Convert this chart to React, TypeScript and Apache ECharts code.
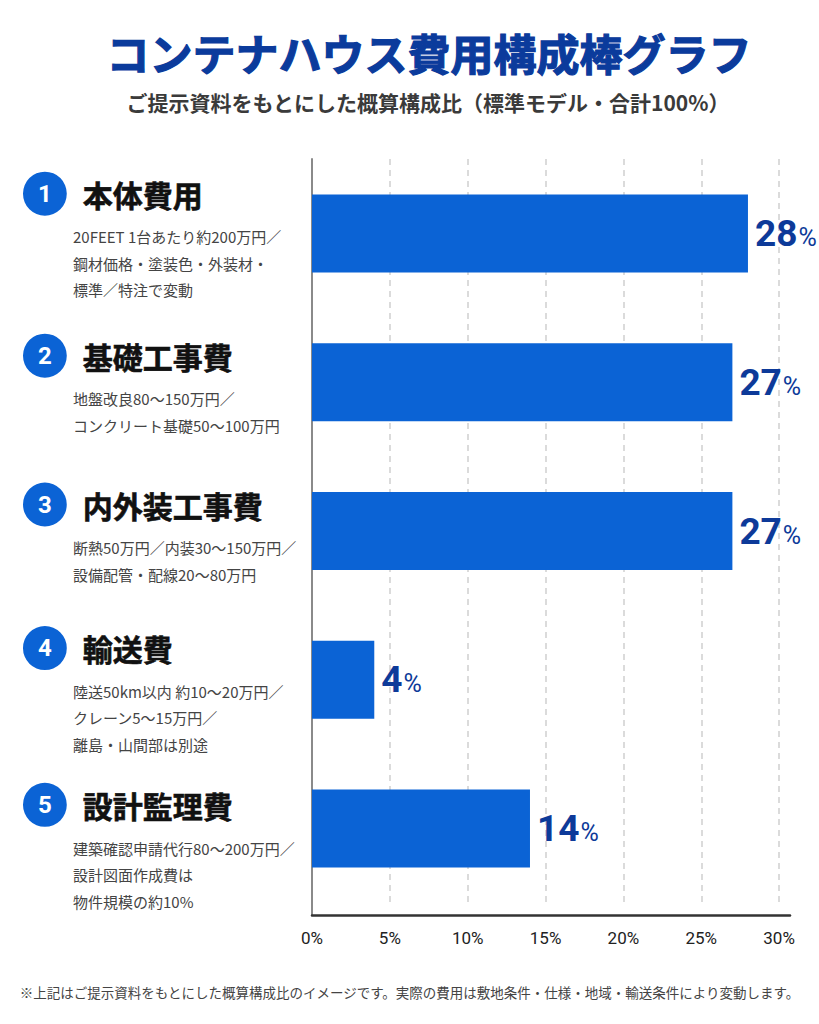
import { useEffect, useRef } from "react";
import * as echarts from "echarts";

const categories = ["本体費用", "基礎工事費", "内外装工事費", "輸送費", "設計監理費"];
const shares = [28, 27, 27, 4, 14];
const notes = [
  ["20FEET 1台あたり約200万円／", "鋼材価格・塗装色・外装材・", "標準／特注で変動"],
  ["地盤改良80～150万円／", "コンクリート基礎50～100万円"],
  ["断熱50万円／内装30～150万円／", "設備配管・配線20～80万円"],
  ["陸送50km以内 約10～20万円／", "クレーン5～15万円／", "離島・山間部は別途"],
  ["建築確認申請代行80～200万円／", "設計図面作成費は", "物件規模の約10%"]
];
const axisStep = 5;
const axisMax = 30.7;

const titleText = "コンテナハウス費用構成棒グラフ";
const subtitleText = "ご提示資料をもとにした概算構成比（標準モデル・合計100%）";
const footnoteText =
  "※上記はご提示資料をもとにした概算構成比のイメージです。実際の費用は敷地条件・仕様・地域・輸送条件により変動します。";

// extra downward nudge of each left-hand label block, px
const labelShift = [0, 0, 0, 8, 16];

const blue = "#0b63d5";
const navy = "#0d3a99";
const jp = "'Noto Sans CJK JP', 'Noto Sans', sans-serif";
const num = "Roboto, 'Noto Sans', sans-serif";

export default function App() {
  const chartRef = useRef<HTMLDivElement | null>(null);

  useEffect(() => {
    if (!chartRef.current) {
      return;
    }

    const chart = echarts.init(chartRef.current, undefined, { renderer: "svg" });
    chart.setOption({
      animation: false,
      backgroundColor: "#ffffff",
      textStyle: { fontFamily: jp },
      title: [
        {
          text: titleText,
          left: 429,
          textAlign: "center",
          top: 27,
          padding: 0,
          textStyle: {
            fontSize: 43,
            fontWeight: "bold",
            color: "#0b3b9c",
            lineHeight: 50,
            fontFamily: jp,
            textBorderColor: "#0b3b9c",
            textBorderWidth: 1.2
          }
        },
        {
          text: subtitleText,
          left: 428,
          textAlign: "center",
          top: 90,
          padding: 0,
          textStyle: { fontSize: 21, fontWeight: "bold", color: "#3a3a3a", lineHeight: 24, fontFamily: jp }
        },
        {
          text: footnoteText,
          left: "center",
          top: 980,
          padding: 0,
          textStyle: { fontSize: 13.5, fontWeight: "normal", color: "#444444", lineHeight: 24, fontFamily: jp }
        }
      ],
      grid: { left: 312, right: 29, top: 159, bottom: 121, containLabel: false, outerBoundsMode: "none" },
      xAxis: {
        type: "value",
        min: 0,
        max: axisMax,
        interval: axisStep,
        offset: 12,
        axisLine: { show: true, lineStyle: { color: "#333333", width: 2.5 } },
        axisTick: { show: false },
        axisLabel: {
          formatter: "{value}%",
          fontSize: 17,
          color: "#222222",
          margin: 14,
          showMaxLabel: false,
          fontFamily: num
        },
        splitLine: {
          show: true,
          showMaxLine: false,
          lineStyle: { type: [6, 5], color: "#d0d0d0", width: 1.5 }
        }
      },
      yAxis: {
        type: "category",
        inverse: true,
        data: categories.map((name, i) => ({
          value: name,
          textStyle: { align: "left", verticalAlign: "middle", padding: [labelShift[i] * 2, 0, 0, 0] }
        })),
        axisLine: { show: true, lineStyle: { color: "#8a8a8a", width: 2 } },
        axisTick: { show: false },
        axisLabel: {
          interval: 0,
          align: "left",
          margin: 289,
          formatter: (value: string, index: number) =>
            [`{num|${index + 1}}{title|${value}}`, ...notes[index].map((line) => `{desc|${line}}`)].join("\n"),
          rich: {
            num: {
              height: 44,
              padding: [0, 15, 0, 15],
              borderRadius: 22,
              backgroundColor: blue,
              color: "#ffffff",
              fontSize: 24,
              fontWeight: "bold",
              lineHeight: 60,
              fontFamily: num
            },
            title: {
              fontSize: 30,
              fontWeight: "bold",
              color: "#111111",
              lineHeight: 60,
              padding: [0, 0, 0, 16],
              fontFamily: jp,
              textBorderColor: "#111111",
              textBorderWidth: 0.6
            },
            desc: {
              fontSize: 15,
              color: "#444444",
              lineHeight: 26.5,
              padding: [0, 0, 0, 50],
              fontFamily: jp
            }
          }
        }
      },
      graphic: [
        {
          type: "line",
          shape: { x1: 312, y1: 902, x2: 312, y2: 916 },
          style: { stroke: "#8a8a8a", lineWidth: 2 },
          silent: true
        }
      ],
      series: [
        {
          type: "bar",
          data: shares,
          barWidth: 78,
          itemStyle: { color: blue },
          label: {
            show: true,
            position: "right",
            distance: 7,
            formatter: (p: { dataIndex: number }) => `{v|${shares[p.dataIndex]}}{p|%}`,
            rich: {
              v: { fontSize: 37, fontWeight: "bold", color: navy, fontFamily: num },
              p: { fontSize: 25, color: navy, fontFamily: num, padding: [8, 0, 0, 1] }
            }
          }
        }
      ]
    });

    return () => {
      chart.dispose();
    };
  }, []);

  return (
    <div
      ref={chartRef}
      style={{ position: "fixed", left: 0, top: 0, width: 819, height: 1024 }}
    />
  );
}
